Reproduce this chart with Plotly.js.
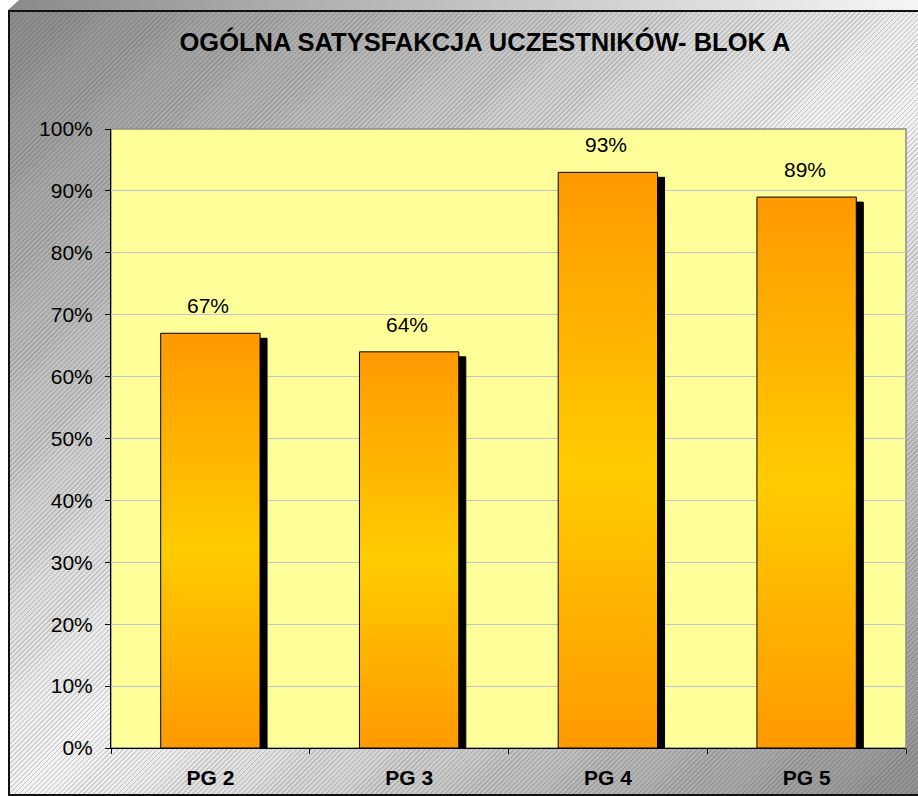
<!DOCTYPE html>
<html>
<head>
<meta charset="utf-8">
<script src="https://cdn.plot.ly/plotly-3.0.1.min.js"></script>
<style>
  html, body { margin: 0; padding: 0; background: #ffffff; width: 918px; height: 796px; overflow: hidden; }
  #band {
    position: absolute; left: 8px; top: 0; width: 1000px; height: 10px;
    background: linear-gradient(to right, #8a8a8a 0px, #b0b0b0 300px, #f4f4f4 900px);
    clip-path: polygon(11px 0, 100% 0, 100% 100%, 0 100%);
  }
  #frame {
    position: absolute; left: 8px; top: 10px; width: 1000px; height: 782px;
    border-left: 2px solid #111; border-top: 2px solid #111; border-bottom: 2px solid #111;
    box-sizing: content-box;
    background:
      repeating-linear-gradient(135deg, rgba(0,0,0,0) 0px, rgba(0,0,0,0) 2.3px, rgba(60,60,60,0.24) 2.6px, rgba(60,60,60,0.24) 3.2px, rgba(0,0,0,0) 3.5px),
      linear-gradient(to bottom right, #8a8a8a 0%, #f2f2f2 48%, #f2f2f2 52%, #868686 100%);
  }
  #chart { position: absolute; left: 0; top: 0; width: 918px; height: 796px; }
</style>
</head>
<body>
<div id="band"></div>
<div id="frame"></div>
<div id="chart"></div>
<script>
const categories = ['PG 2', 'PG 3', 'PG 4', 'PG 5'];
const values = [0.67, 0.64, 0.93, 0.89];
const valueLabels = ['67%', '64%', '93%', '89%'];
const chartTitle = 'OGÓLNA SATYSFAKCJA UCZESTNIKÓW- BLOK A';

const FONT = 'Liberation Sans, Arial, sans-serif';

const trace = {
  type: 'bar',
  x: categories,
  y: values,
  width: 0.5,
  marker: { color: '#FFAA00', line: { color: '#000000', width: 1 } },
  hoverinfo: 'skip'
};

const annotations = categories.map((c, i) => ({
  x: c, y: values[i], xref: 'x', yref: 'y',
  text: valueLabels[i], showarrow: false,
  yanchor: 'bottom', xanchor: 'center', yshift: 14, xshift: -2,
  font: { family: FONT, size: 21, color: '#000000' }
}));

const layout = {
  width: 918, height: 796,
  paper_bgcolor: 'rgba(0,0,0,0)',
  plot_bgcolor: '#FFFF99',
  margin: { l: 111, r: 12, t: 129, b: 48, pad: 0 },
  showlegend: false,
  hovermode: false,
  title: {
    text: chartTitle,
    xref: 'container', yref: 'container',
    x: 485 / 918, y: 1 - 42 / 796,
    xanchor: 'center', yanchor: 'middle',
    font: { family: FONT, size: 25.5, weight: 'bold', color: '#000000' }
  },
  xaxis: {
    type: 'category',
    showline: true, linecolor: '#000000', linewidth: 1,
    ticks: 'outside', ticklen: 5, tickcolor: '#000000', tickwidth: 1,
    tickson: 'boundaries',
    showgrid: false,
    ticklabelstandoff: 11,
    tickfont: { family: FONT, size: 21, weight: 'bold', color: '#000000' },
    fixedrange: true
  },
  yaxis: {
    range: [0, 1],
    dtick: 0.1, tick0: 0,
    tickformat: '.0%',
    showline: true, linecolor: '#000000', linewidth: 1,
    ticks: 'outside', ticklen: 5, tickcolor: '#000000', tickwidth: 1,
    showgrid: true, gridcolor: '#C4C4D0', gridwidth: 1,
    zeroline: false,
    ticklabelstandoff: 8,
    tickfont: { family: FONT, size: 21, color: '#000000' },
    fixedrange: true
  },
  shapes: [{
    type: 'rect', xref: 'paper', yref: 'paper',
    x0: 0, x1: 1, y0: 0, y1: 1,
    line: { color: '#8c8c8c', width: 1.5 }, layer: 'below'
  }],
  annotations: annotations
};

Plotly.newPlot('chart', [trace], layout, { displayModeBar: false, staticPlot: true }).then(gd => {
  const NS = 'http://www.w3.org/2000/svg';
  const svg = gd.querySelector('svg.main-svg');
  let defs = svg.querySelector('defs');
  if (!defs) { defs = document.createElementNS(NS, 'defs'); svg.insertBefore(defs, svg.firstChild); }
  const grad = document.createElementNS(NS, 'linearGradient');
  grad.setAttribute('id', 'barGrad');
  grad.setAttribute('x1', '0'); grad.setAttribute('y1', '0');
  grad.setAttribute('x2', '0'); grad.setAttribute('y2', '1');
  [['0%', '#FF9900'], ['52%', '#FFCC00'], ['100%', '#FF9900']].forEach(([o, c]) => {
    const s = document.createElementNS(NS, 'stop');
    s.setAttribute('offset', o); s.setAttribute('stop-color', c);
    grad.appendChild(s);
  });
  defs.appendChild(grad);
  gd.querySelectorAll('.trace.bars .point path').forEach(p => {
    p.style.fill = 'url(#barGrad)';
    p.style.filter = 'drop-shadow(7px 5px 0px #000000)';
  });
});
</script>
</body>
</html>
